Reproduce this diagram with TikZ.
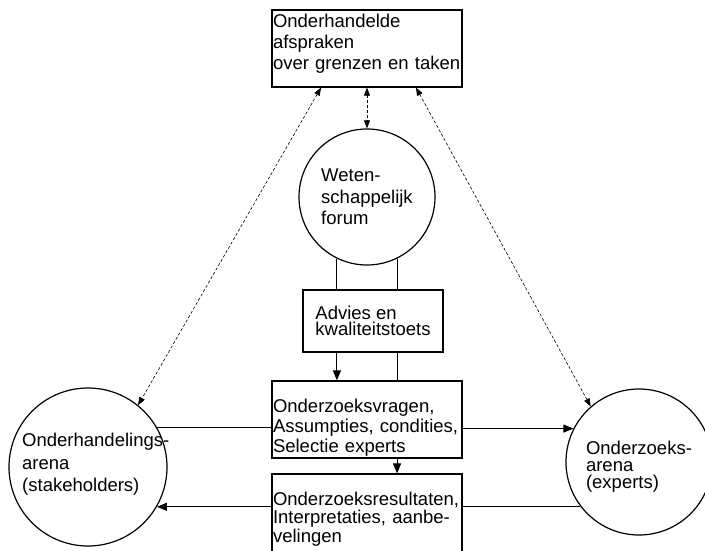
\documentclass[tikz,border=0pt]{standalone}
\usepackage{fontspec}
\setmainfont{Liberation Sans}
\usetikzlibrary{arrows.meta}

\begin{document}
\begin{tikzpicture}[x=1pt,y=-1pt,
    box/.style={draw,rectangle,line width=1.2pt,inner sep=1pt,align=left},
    circ/.style={draw,circle,line width=1.2pt,inner sep=0pt,align=left},
    txt/.style={inner sep=0pt,align=left},
    link/.style={line width=1pt},
    pijl/.style={line width=1pt,-{Triangle[length=10pt,width=8pt]}},
    stippel/.style={line width=0.6pt,dash pattern=on 3pt off 2pt,
        {Triangle[length=8pt,width=6pt]}-{Triangle[length=8pt,width=6pt]}},
    font=\fontsize{18.5}{21}\selectfont]
    \useasboundingbox (0,0) rectangle (705,551);
    \clip (0,0) rectangle (705,551);

%draw boxes
    \node[box,text width=188pt,minimum height=77pt] (afspraken) at (367,48.5)
        {Onderhandelde\\afspraken\\over grenzen en taken\rule[-12.5pt]{0pt}{0pt}};
    \node[box,minimum width=140pt,minimum height=62pt,font=\fontsize{18.5}{16.5}\selectfont] (advies) at (373,321)
        {Advies en\\kwaliteitstoets};
    \node[box,text width=188pt,minimum height=77pt,font=\fontsize{18.5}{20}\selectfont] (vragen) at (367,419.5)
        {\rule{0pt}{29pt}Onderzoeksvragen,\\Assumpties, condities,\\Selectie experts};
    \node[box,text width=188pt,minimum height=90pt,font=\fontsize{18.5}{18.5}\selectfont] (result) at (367,519)
        {Onderzoeksresultaten,\\Interpretaties, aanbe-\\velingen};

%draw circles
    \node[circ,minimum size=136pt,font=\fontsize{18.5}{21.5}\selectfont] (forum) at (367,197)
        {Weten-\\schappelijk\\forum};
    \node[circ,minimum size=158pt] (stake) at (88,467) {};
    \node[txt,anchor=west,font=\fontsize{18.5}{22.5}\selectfont] (stake-txt) at (22,464.7)
        {Onderhandelings-\\arena\\(stakeholders)};
    \node[circ,minimum size=146pt,font=\fontsize{18.5}{17}\selectfont] (exp) at (639,462)
        {\rule{0pt}{22pt}Onderzoeks-\\arena\\(experts)};

%dashed arrows to the agreements
    \draw[stippel] ([xshift=-46pt]afspraken.south) -- (stake.51);
    \draw[stippel] (afspraken.south) -- (forum.north);
    \draw[stippel] ([xshift=49pt]afspraken.south) -- (exp.131);

%forum down to the boxes
    \draw[link] (forum.244) -- (forum.244 |- advies.north);
    \draw[link] (forum.296) -- (forum.296 |- advies.north);
    \draw[pijl] (forum.244 |- advies.south) -- (forum.244 |- vragen.north);
    \draw[link] (forum.296 |- advies.south) -- (forum.296 |- vragen.north);
    \draw[pijl] (forum.296 |- vragen.south) -- (forum.296 |- result.north);

%horizontal lines between the arenas
    \draw[link] (stake.30) -- (stake.30 -| vragen.west);
    \draw[pijl] (exp.153 -| vragen.east) -- (exp.153);
    \draw[pijl] (stake.-30 -| result.west) -- (stake.-30);
    \draw[link] (exp.217 -| result.east) -- (exp.217);

\end{tikzpicture}
\end{document}
